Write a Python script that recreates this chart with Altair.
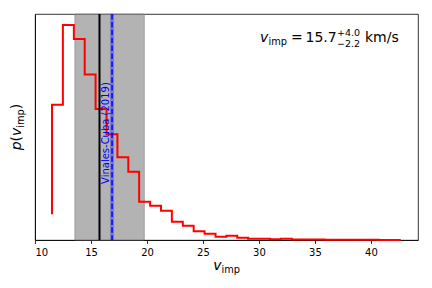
import altair as alt
import pandas as pd

# ---- data ----
v_points = [11.52, 12.49, 13.47, 14.44, 15.41, 16.39, 17.36, 18.33, 19.30, 20.28,
            21.25, 22.22, 23.20, 24.17, 25.14, 26.12, 27.09, 28.06, 29.03, 30.01,
            30.98, 31.95, 32.93, 33.90, 34.87, 35.85, 36.82, 37.79, 38.76, 39.74,
            40.71, 41.68, 42.66]
p_values = [0.0208, 0.1093, 0.1737, 0.1624, 0.1338, 0.1058, 0.0854, 0.0668, 0.0552, 0.0309,
            0.0277, 0.0237, 0.0148, 0.0116, 0.0070, 0.0051, 0.0027, 0.0035, 0.0019, 0.0011,
            0.0011, 0.0006, 0.0011, 0.0005, 0.0004, 0.0004, 0.0003, 0.0003, 0.0002, 0.0002,
            0.0002, 0.0001, 0.0001]
v_median = [15.76]
v_low = [13.56]
v_high = [19.76]
lit_value = [16.88]
lit_low = [16.70]
lit_high = [17.06]
lit_label = ["Vinales-Cuba (2019)"]
lit_label_v = [16.6]
lit_label_p = [0.0864]
x_ticks = [10, 15, 20, 25, 30, 35, 40]

W, H = 383, 226
FONT = "DejaVu Sans"

hist = pd.DataFrame({"v": v_points, "p": p_values})
band = pd.DataFrame({"lo": v_low, "hi": v_high})
med = pd.DataFrame({"v": v_median})
lit_band = pd.DataFrame({"lo": lit_low, "hi": lit_high})
lit = pd.DataFrame({"v": lit_value})
lit_lab = pd.DataFrame({"v": lit_label_v, "p": lit_label_p, "label": lit_label})

xscale = alt.Scale(domain=[10, 44.2], nice=False, zero=False)
yscale = alt.Scale(domain=[0, 0.1826], nice=False, zero=False)
xaxis = alt.Axis(values=x_ticks, format="d", title=None, grid=False,
                 labelFont=FONT, labelFontSize=10, labelColor="black",
                 tickColor="black", tickSize=3.5, tickWidth=0.8,
                 domainColor="black", domainWidth=0.8, labelPadding=3.5)
yaxis = alt.Axis(labels=False, ticks=False, title=None, grid=False,
                 domainColor="black", domainWidth=0.8)

gray_band = alt.Chart(band).mark_rect(
    fill="#808080", fillOpacity=0.6, stroke="#808080", strokeOpacity=0.6, strokeWidth=1
).encode(x=alt.X("lo:Q", scale=xscale, axis=xaxis), x2="hi:Q")

line = alt.Chart(hist).mark_line(
    color="red", strokeWidth=2, interpolate="step-before"
).encode(x=alt.X("v:Q", scale=xscale, axis=xaxis),
         y=alt.Y("p:Q", scale=yscale, axis=yaxis))

blue_band = alt.Chart(lit_band).mark_rect(
    fill="blue", fillOpacity=0.3
).encode(x=alt.X("lo:Q", scale=xscale, axis=xaxis), x2="hi:Q")

med_rule = alt.Chart(med).mark_rule(color="black", strokeWidth=2).encode(
    x=alt.X("v:Q", scale=xscale, axis=xaxis))

lit_rule = alt.Chart(lit).mark_rule(color="blue", strokeWidth=1.5, strokeDash=[5.5, 2.4]).encode(
    x=alt.X("v:Q", scale=xscale, axis=xaxis))

lit_text = alt.Chart(lit_lab).mark_text(
    angle=270, align="center", baseline="alphabetic", font=FONT, fontSize=10,
    color="blue"
).encode(x=alt.X("v:Q", scale=xscale, axis=xaxis),
         y=alt.Y("p:Q", scale=yscale, axis=yaxis), text="label:N")

# ---- rich text pieces (annotation and axis titles) ----
def piece(txt, x, y, size, style="normal", angle=0):
    kw = dict(align="left", baseline="alphabetic", font=FONT, fontSize=size,
              fontStyle=style, color="black")
    if angle:
        kw["angle"] = angle
    return alt.Chart(pd.DataFrame({"t": [txt]})).mark_text(**kw).encode(
        x=alt.value(x), y=alt.value(y), text="t:N")

annot = [
    piece("v", 225, 28, 14, "italic"),
    piece("imp", 233.6, 31, 9.8),
    piece("=", 256, 28, 14),
    piece("15.7", 270.5, 28, 14),
    piece("+4.0", 302, 22, 9.5),
    piece("\u22122.2", 302, 32.5, 9.5),
    piece("km/s", 330, 28, 14),
]
xtitle = [
    piece("v", 178.3, 256, 14, "italic"),
    piece("imp", 186.6, 259, 9.8),
]
ytitle = [
    piece("p", -14, 136.3, 14, "italic", 270),
    piece("(", -14, 127.4, 14, "normal", 270),
    piece("v", -14, 122, 14, "italic", 270),
    piece("imp", -11, 113.7, 9.8, "normal", 270),
    piece(")", -14, 95.2, 14, "normal", 270),
]

chart = alt.layer(gray_band, line, blue_band, med_rule, lit_rule, lit_text,
                  *annot, *xtitle, *ytitle).properties(
    width=W, height=H,
    autosize=alt.AutoSizeParams(type="none"),
    padding={"left": 27, "top": 6, "right": 6, "bottom": 40},
).configure_view(stroke="black", strokeWidth=0.8)

chart.save("out.html", embed_options={"renderer": "svg", "actions": False})
